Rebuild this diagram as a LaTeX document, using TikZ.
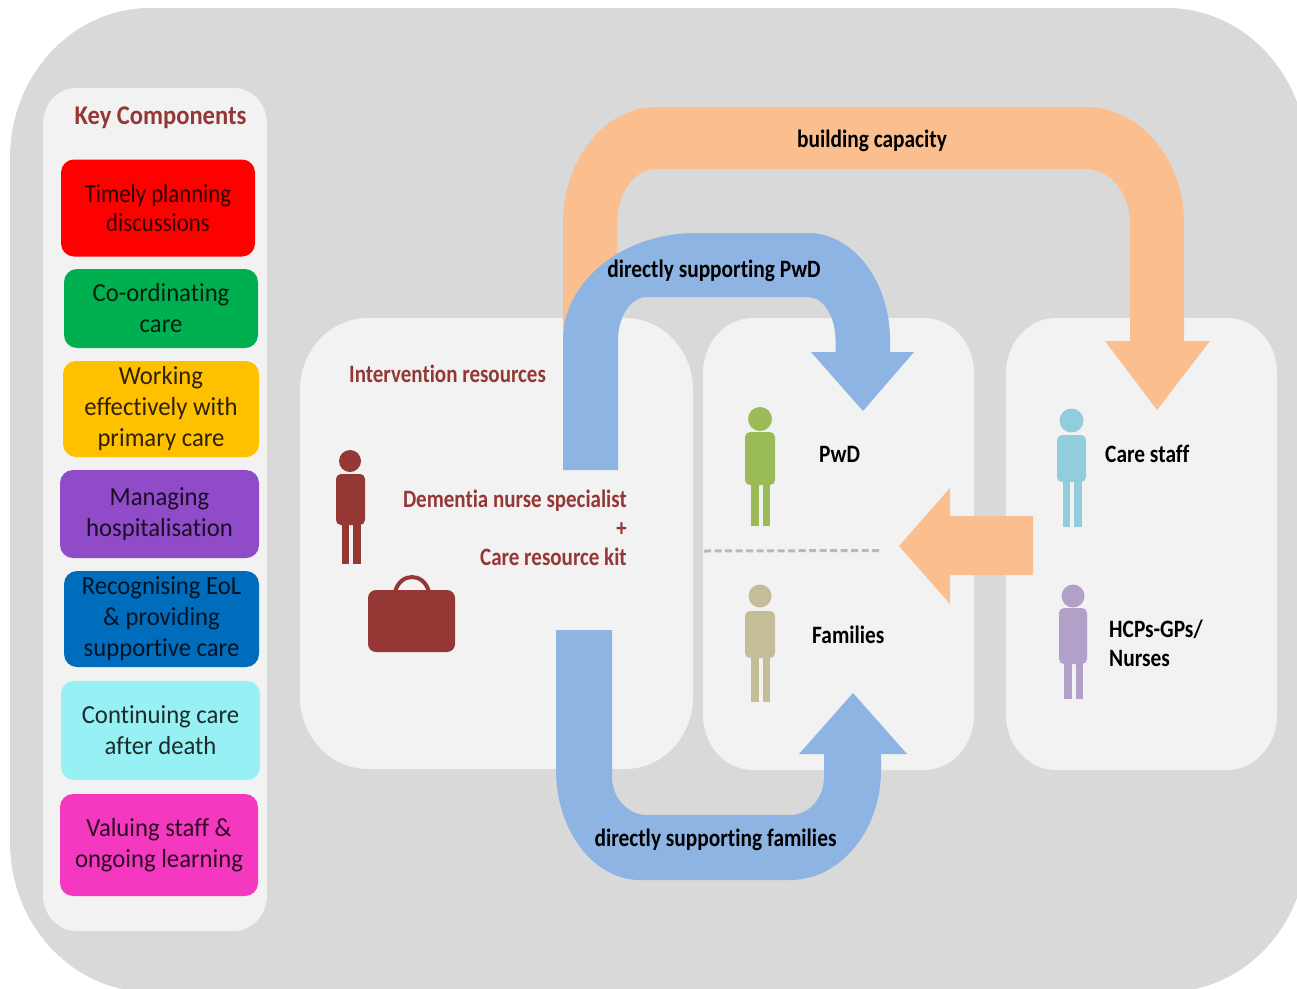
\documentclass[tikz,border=0pt]{standalone}
\usepackage{fontspec}
\setmainfont{Carlito}[Ligatures=NoCommon]
\newfontfamily\lblfont{Carlito}[FakeStretch=0.855,Ligatures=NoCommon]
\newfontfamily\marfont{Carlito}[FakeStretch=0.84,Ligatures=NoCommon]
\newfontfamily\ttlfont{Carlito}[FakeStretch=0.91,Ligatures=NoCommon]
\newfontfamily\boxfont{Carlito}[FakeStretch=0.95,Ligatures=NoCommon]
\newfontfamily\boxnarrow{Carlito}[FakeStretch=0.875,Ligatures=NoCommon]
\definecolor{bggray}{HTML}{D9D9D9}
\definecolor{panel}{HTML}{F2F2F2}
\definecolor{maroon}{HTML}{953735}
\definecolor{peach}{HTML}{FBBF8F}
\definecolor{skyb}{HTML}{8EB4E3}
\definecolor{figgreen}{HTML}{9BBB59}
\definecolor{figtan}{HTML}{C4BD97}
\definecolor{figblue}{HTML}{92CDDC}
\definecolor{figpurple}{HTML}{B1A0C7}
\definecolor{cred}{HTML}{FF0000}
\definecolor{cgreen}{HTML}{00B050}
\definecolor{cyellow}{HTML}{FFC000}
\definecolor{cpurple}{HTML}{904CC8}
\definecolor{cblue}{HTML}{006CBC}
\definecolor{ccyan}{HTML}{96F0F4}
\definecolor{cpink}{HTML}{F438C0}
\newcommand\softbox[7]{%
  \pgfmathsetmacro\kx{0.4477*#6}\pgfmathsetmacro\ky{0.4477*#7}%
  \fill[#1] (#2+#6,#3) -- (#4-#6,#3)
    .. controls (#4-\kx,#3) and (#4,#3+\ky) .. (#4,#3+#7) -- (#4,#5-#7)
    .. controls (#4,#5-\ky) and (#4-\kx,#5) .. (#4-#6,#5) -- (#2+#6,#5)
    .. controls (#2+\kx,#5) and (#2,#5-\ky) .. (#2,#5-#7) -- (#2,#3+#7)
    .. controls (#2,#3+\ky) and (#2+\kx,#3) .. (#2+#6,#3) -- cycle;}
\newcommand\stickman[9]{% colour, head x, y, r, body x1, y1, x2, y2, leg bottom
  \pgfmathsetmacro\cxx{(#5+#7)/2}%
  \fill[#1] (#2,#3) circle[radius=#4];
  \fill[#1,rounded corners=5] (#5,#6) rectangle (#7,#8);
  \fill[#1] (\cxx-9,#8-3) rectangle (\cxx-1.5,#9);
  \fill[#1] (\cxx+2.5,#8-3) rectangle (\cxx+10,#9);}
\tikzset{
  compbox/.style={rounded corners=13,inner sep=0pt,align=center,text=black,text opacity=0.82,
    font=\fontsize{26}{31}\selectfont\boxfont},
  blab/.style={inner sep=0pt,text=black,font=\fontsize{25}{29}\selectfont\lblfont\bfseries},
  mlab/.style={inner sep=0pt,text=maroon,font=\fontsize{25}{29}\selectfont\marfont\bfseries},
  peachshape/.style={fill=peach},
  blueshape/.style={fill=skyb},
}
\begin{document}
\begin{tikzpicture}[x=1pt,y=-1pt]
\useasboundingbox (0,0) rectangle (1297,988);
\begin{scope}
\clip (0,0) rectangle (1297,988);
\softbox{bggray}{10}{8}{1307}{992}{140}{150}
\end{scope}
% panels
\softbox{panel}{43}{88}{267}{931}{33}{36}
\softbox{panel}{300}{318}{693}{769}{68}{72}
\softbox{panel}{703}{318}{974}{770}{50}{55}
\softbox{panel}{1006}{318}{1277}{770}{50}{55}
% key components
\node[mlab,font=\fontsize{27}{29}\selectfont\ttlfont\bfseries] (keytitle) at (160.5,117.5) {Key Components};
\node[compbox,fill=cred,minimum width=194pt,minimum height=97pt,font=\fontsize{26}{29}\selectfont\boxnarrow] (c1) at (158,208) {Timely planning\\discussions};
\node[compbox,fill=cgreen,minimum width=194pt,minimum height=79pt] (c2) at (161,308.5) {Co-ordinating\\care};
\node[compbox,fill=cyellow,minimum width=196pt,minimum height=96pt] (c3) at (161,409) {Working\\effectively with\\primary care};
\node[compbox,fill=cpurple,minimum width=199pt,minimum height=88pt] (c4) at (159.5,514) {Managing\\hospitalisation};
\node[compbox,fill=cblue,minimum width=195pt,minimum height=96pt] (c5) at (161.5,619) {Recognising EoL\\\& providing\\supportive care};
\node[compbox,fill=ccyan,minimum width=199pt,minimum height=99pt] (c6) at (160.5,730.5) {Continuing care\\after death};
\node[compbox,fill=cpink,minimum width=198pt,minimum height=102pt] (c7) at (159,845) {Valuing staff \&\\ongoing learning};
% dashed divider
\draw[bggray!85!black,line width=3pt,dash pattern=on 7pt off 3.5pt] (704,551) -- (880,550.5);
% figures
\stickman{maroon}{350}{461}{11}{336}{474}{365}{525}{564}
\stickman{figgreen}{760}{419}{12}{745}{432}{775}{485}{526}
\stickman{figtan}{760}{596}{11.5}{745}{611}{775}{658}{702}
\stickman{figblue}{1071.5}{420.5}{12}{1057}{435}{1086}{482}{527}
\stickman{figpurple}{1073}{596}{11.5}{1059}{608}{1087}{664}{699}
% bag
\fill[maroon,rounded corners=8] (368,590) rectangle (455,652);
\draw[maroon,line width=4pt] (395,592) .. controls (400,572) and (424,572) .. (429,592);
% peach arrows
\fill[peachshape] (1033,516) -- (950,516) -- (950,488) -- (899,546) -- (950,604) -- (950,575) -- (1033,575) -- cycle;
\fill[peachshape] (563,330) -- (563,223)
  .. controls (563,159) and (605,107) .. (656,107) -- (1085,107)
  .. controls (1140,107) and (1184,159) .. (1184,223) -- (1184,341) -- (1210,341) -- (1157,410) -- (1105,341) -- (1130,341) -- (1130,223)
  .. controls (1130,193) and (1110,169) .. (1085,169) -- (656,169)
  .. controls (635,169) and (617,193) .. (617,223) -- (617,330) -- cycle;
% blue arrows
\fill[blueshape] (563,470) -- (563,340)
  .. controls (563,281) and (623,233) .. (696,233) -- (808,233)
  .. controls (853,233) and (890,281) .. (890,340) -- (890,352) -- (914,352) -- (863,411) -- (811,352) -- (835.5,352) -- (835.5,340)
  .. controls (835.5,316) and (823,297) .. (808,297) -- (647,297)
  .. controls (631,297) and (618,316) .. (618,340) -- (618,470) -- cycle;
\fill[blueshape] (556,630) -- (556,770)
  .. controls (556,831) and (594,880) .. (640,880) -- (790,880)
  .. controls (840,880) and (881,831) .. (881,770) -- (881,754) -- (907,754) -- (853,693) -- (799,754) -- (824,754) -- (824,777)
  .. controls (824,798) and (809,815) .. (790,815) -- (647,815)
  .. controls (628,815) and (612,798) .. (612,777) -- (612,630) -- cycle;
% labels
\node[blab] (bc) at (872,141) {building capacity};
\node[blab] (dp) at (714,271) {directly supporting PwD};
\node[blab] (df) at (715.5,840) {directly supporting families};
\node[mlab,anchor=west] (ir) at (349,374) {Intervention resources};
\node[mlab,anchor=east,align=right] (dn) at (627,528) {Dementia nurse specialist\\+\\Care resource kit};
\node[blab,anchor=west] (pwd) at (819,454.5) {PwD};
\node[blab,anchor=west] (fam) at (812,635) {Families};
\node[blab,anchor=west] (cs) at (1105,454) {Care staff};
\node[blab,anchor=west,align=left] (hcp) at (1109,643.5) {HCPs-GPs/\\Nurses};
\end{tikzpicture}
\end{document}
